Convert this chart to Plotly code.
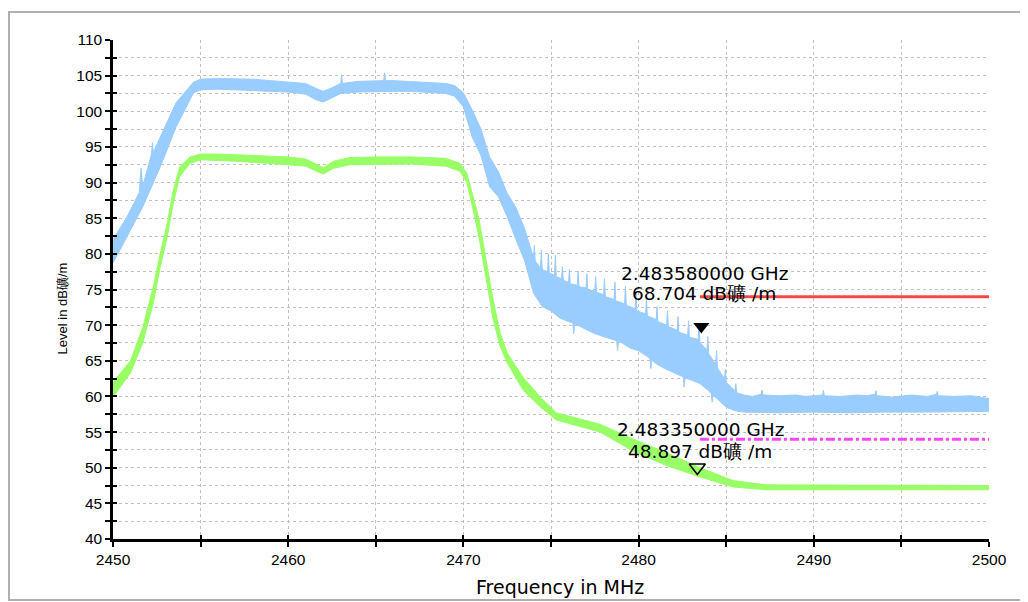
import plotly.graph_objects as go

# ---------------- data ----------------
# Peak trace (light blue): upper envelope (freq MHz, level dB礦/m)
peak_up_freq = [2450, 2450.8, 2451.5, 2451.6, 2451.7, 2452.2, 2452.25, 2452.3, 2452.7, 2453.6, 2454.6,
                2455, 2456, 2457, 2458, 2459, 2460, 2461, 2461.6, 2462, 2462.5, 2463, 2463.05, 2463.1,
                2464, 2465, 2465.45, 2465.5, 2465.55, 2466, 2467, 2468, 2469, 2469.5, 2470, 2470.5,
                2471, 2471.5, 2472, 2472.5, 2473, 2473.5, 2473.8,
                2474.0, 2474.05, 2474.1, 2474.4, 2474.45, 2474.5, 2474.8, 2474.85, 2474.9,
                2475.2, 2475.25, 2475.3, 2475.6, 2475.65, 2475.7, 2476.0, 2476.05, 2476.1,
                2476.5, 2476.55, 2476.6, 2477.0, 2477.05, 2477.1, 2477.5, 2477.55, 2477.6,
                2478.0, 2478.05, 2478.1, 2478.6, 2478.65, 2478.7, 2479.2, 2479.25, 2479.3,
                2479.8, 2479.85, 2479.9, 2480.4, 2480.45, 2480.5, 2481.0, 2481.05, 2481.1,
                2481.6, 2481.65, 2481.7, 2482.2, 2482.25, 2482.3, 2482.8, 2482.85, 2482.9,
                2483.4, 2483.45, 2483.5, 2483.9, 2483.95, 2484.0, 2484.4, 2484.45, 2484.5,
                2484.9, 2484.95, 2485.0, 2485.5, 2485.55, 2485.6, 2486.0,
                2486.5, 2487, 2487.05, 2487.1, 2488, 2489, 2489.5, 2490.5, 2490.55, 2490.6,
                2491.5, 2492.5, 2493, 2493.5, 2493.55, 2493.6, 2494.5, 2495.5, 2496.5, 2497,
                2497.05, 2497.1, 2498, 2499, 2500]
peak_up = [82.0, 85.2, 88.6, 92.0, 89.5, 94.0, 95.6, 94.2, 96.4, 101.2, 104.1,
           104.5, 104.6, 104.6, 104.5, 104.3, 104.1, 103.9, 103.2, 102.8, 103.3, 103.9, 105.1, 103.9,
           104.2, 104.3, 104.3, 105.4, 104.3, 104.3, 104.2, 104.1, 103.9, 103.6, 102.6, 100.2,
           97.5, 93.6, 91.5, 88.5, 86.5, 83.5, 81.0,
           79.5, 81.2, 79.0, 78.0, 80.5, 77.8, 77.5, 80.0, 77.3,
           77.0, 79.8, 76.8, 76.5, 78.2, 76.3, 76.0, 77.8, 75.8,
           75.6, 77.6, 75.4, 75.2, 77.2, 75.0, 74.8, 76.8, 74.6,
           74.3, 76.5, 74.0, 73.6, 76.0, 73.4, 73.0, 75.5, 72.8,
           72.3, 74.6, 72.0, 71.6, 73.6, 71.3, 70.8, 72.6, 70.5,
           70.0, 72.0, 69.8, 69.3, 71.2, 69.0, 68.6, 70.6, 68.3,
           68.0, 70.0, 67.6, 66.5, 68.4, 66.0, 64.5, 66.4, 64.0,
           62.5, 63.8, 62.0, 60.8, 61.8, 60.5, 60.2,
           60.0, 60.3, 60.9, 60.2, 60.1, 60.2, 60.0, 60.2, 60.9, 60.1,
           60.0, 60.2, 60.1, 60.3, 60.8, 60.1, 59.9, 60.2, 60.0, 60.3,
           60.7, 60.1, 60.0, 60.1, 59.7]

# Peak trace: lower envelope
peak_lo_freq = [2450, 2450.8, 2451.7, 2452.7, 2453.6, 2454.6, 2455, 2456, 2457, 2458, 2459, 2460,
                2461, 2461.6, 2462, 2462.5, 2463, 2464, 2465, 2466, 2467, 2468, 2469, 2469.5, 2470,
                2470.5, 2471, 2471.5, 2472, 2472.5, 2473, 2473.5, 2474, 2474.5, 2475, 2475.5, 2476,
                2476.25, 2476.3, 2476.35, 2476.5, 2477, 2477.5, 2478, 2478.5, 2478.75, 2478.8,
                2478.85, 2479, 2479.5, 2480, 2480.5, 2480.65, 2480.7, 2480.75, 2481, 2481.5, 2482,
                2482.5, 2482.55, 2482.6, 2482.65, 2483, 2483.5, 2484, 2484.15, 2484.2, 2484.25,
                2484.5, 2485, 2485.5, 2486, 2488, 2490, 2492, 2494, 2496, 2498, 2500]
peak_lo = [78.7, 82.4, 86.6, 92.2, 97.8, 102.6, 103.0, 103.1, 103.0, 102.9, 102.8, 102.7,
           102.4, 101.6, 101.3, 101.9, 102.5, 102.7, 102.8, 102.8, 102.8, 102.7, 102.5, 102.1, 100.6,
           96.4, 93.8, 89.4, 88.0, 85.2, 82.0, 79.0, 74.5, 72.6, 72.0, 71.0, 70.5,
           70.3, 68.8, 70.2, 70.0, 69.4, 68.8, 68.4, 68.0, 67.8, 66.4,
           67.7, 67.6, 66.8, 66.4, 65.6, 65.3, 63.9, 65.1, 64.6, 63.9, 63.3,
           62.8, 62.7, 61.3, 62.6, 62.3, 61.8, 60.8, 60.4, 59.2, 60.2,
           59.6, 58.5, 58.0, 57.8, 57.7, 57.8, 57.7, 57.8, 57.8, 57.8, 57.9]

# Average trace (light green) envelope
avg_freq = [2450, 2451, 2451.7, 2452.3, 2452.7, 2453.1, 2453.4, 2453.8, 2454.4, 2455, 2456, 2457,
            2458, 2459, 2460, 2461, 2461.6, 2462, 2462.6, 2463.5, 2465, 2467, 2469, 2469.8, 2470.2,
            2470.5, 2470.9, 2471.3, 2471.7, 2472.1, 2472.5, 2473.4, 2474.4, 2475.3, 2476.5, 2477.8,
            2479.7, 2481.6, 2483.5, 2485.4, 2487.3, 2490, 2495, 2500]
avg_upper = [62.0, 65.0, 69.7, 75.4, 80.1, 84.3, 88.5, 92.2, 93.6, 94.0, 94.0, 93.9,
             93.8, 93.7, 93.6, 93.3, 92.6, 92.1, 93.0, 93.5, 93.6, 93.6, 93.4, 92.7, 91.3,
             88.5, 84.8, 79.1, 73.5, 68.9, 66.1, 62.7, 59.9, 57.7, 56.9, 56.1,
             54.0, 52.1, 50.0, 48.2, 47.6, 47.6, 47.6, 47.5]
avg_lower = [59.9, 63.3, 67.5, 73.1, 78.2, 82.4, 86.6, 90.8, 92.7, 93.2, 93.1, 93.0,
             92.9, 92.7, 92.5, 92.3, 91.6, 91.2, 92.0, 92.5, 92.6, 92.6, 92.3, 91.6, 90.0,
             86.8, 82.2, 76.5, 70.8, 67.0, 64.7, 60.9, 58.5, 56.7, 55.9, 55.0,
             52.3, 50.3, 48.7, 47.3, 46.9, 46.9, 46.9, 46.9]

# Limit lines
limit_freq = [2483.5, 2500]
limit_peak = [74, 74]
limit_avg = [54, 54]

# Markers
marker_freq = [2483.58, 2483.35]
marker_level = [68.704, 48.897]

x_ticks = [2450, 2460, 2470, 2480, 2490, 2500]

# ---------------- figure ----------------
BLUE = "#99ccff"
GREEN = "#99ff66"

fig = go.Figure()

fig.add_trace(go.Scatter(
    x=peak_up_freq + peak_lo_freq[::-1], y=peak_up + peak_lo[::-1],
    fill="toself", fillcolor=BLUE, mode="lines",
    line=dict(color=BLUE, width=1), hoverinfo="skip", showlegend=False))

fig.add_trace(go.Scatter(
    x=avg_freq + avg_freq[::-1], y=avg_upper + avg_lower[::-1],
    fill="toself", fillcolor=GREEN, mode="lines",
    line=dict(color=GREEN, width=1), hoverinfo="skip", showlegend=False))

fig.add_trace(go.Scatter(x=limit_freq, y=limit_peak, mode="lines",
                         line=dict(color="#f44848", width=3), showlegend=False))
fig.add_trace(go.Scatter(x=limit_freq, y=limit_avg, mode="lines",
                         line=dict(color="#ff44ff", width=3, dash="dashdot"), showlegend=False))

# marker triangles drawn a little above the marked level
PX_PER_DB = 499 / 70.0
tri_off = 8 / PX_PER_DB
fig.add_trace(go.Scatter(x=[marker_freq[0]], y=[marker_level[0] + tri_off], mode="markers",
                         marker=dict(symbol="triangle-down", size=14, color="black"),
                         showlegend=False))
fig.add_trace(go.Scatter(x=[marker_freq[1]], y=[marker_level[1] + tri_off], mode="markers",
                         marker=dict(symbol="triangle-down-open", size=14, color="black",
                                     line=dict(width=1.5)),
                         showlegend=False))

# invisible trace for overlay axes (inside ticks)
fig.add_trace(go.Scatter(x=[2450], y=[40], xaxis="x2", yaxis="y2", mode="markers",
                         marker=dict(opacity=0), showlegend=False, hoverinfo="skip"))

ann_font = dict(family="DejaVu Sans", size=18.5, color="black")
shifts = [(61, 41), (46, 24)]
for f, lv, (s1, s2) in zip(marker_freq, marker_level, shifts):
    fig.add_annotation(x=f, y=lv, xref="x", yref="y", text=f"{f / 1000:.9f} GHz",
                       showarrow=False, xshift=3, yshift=s1, font=ann_font)
    fig.add_annotation(x=f, y=lv, xref="x", yref="y", text=f"{lv:.3f} dB礦 /m",
                       showarrow=False, xshift=3, yshift=s2, font=ann_font)

fig.add_annotation(x=-0.0674, y=0.463, xref="paper", yref="paper", text="Level in dB礦/m",
                   textangle=-90, showarrow=False,
                   font=dict(family="Liberation Sans", size=13, color="black"))
fig.add_annotation(x=0.51, y=-0.096, xref="paper", yref="paper", text="Frequency in MHz",
                   showarrow=False, yanchor="middle",
                   font=dict(family="DejaVu Sans", size=19, color="black"))

# outer frame
fig.add_shape(type="rect", xref="paper", yref="paper",
              x0=(9 - 113) / 876, x1=(1040 - 113) / 876,
              y0=(539 - 600) / 499, y1=(539 - 12) / 499,
              line=dict(color="#b0b0b0", width=2), layer="below")

grid = dict(gridcolor="#c0c0c0", griddash="dot", gridwidth=1.2)
tickfont = dict(family="Liberation Sans", size=15.5, color="black")

# the page body has an 8px margin, so the figure is sized/offset to place the
# plot area at the reference's pixel positions in the 1028x602 window
fig.update_layout(
    width=1020, height=594,
    margin=dict(l=105, r=39, t=32, b=63),
    paper_bgcolor="white", plot_bgcolor="white",
    xaxis=dict(range=[2450, 2500], tickvals=x_ticks, ticks="outside", ticklen=5, tickwidth=2,
               tickcolor="black", showline=True, linecolor="black", linewidth=2.5,
               showgrid=True, zeroline=False, tickfont=tickfont, **grid,
               minor=dict(dtick=5, tick0=2450, ticks="outside", ticklen=5, tickwidth=2,
                          tickcolor="black", showgrid=True, **grid)),
    yaxis=dict(range=[40, 110], dtick=5, tick0=40, ticks="outside", ticklen=5, tickwidth=2,
               tickcolor="black", showline=True, linecolor="black", linewidth=2.5,
               showgrid=True, zeroline=False, tickfont=tickfont, **grid,
               minor=dict(dtick=2.5, tick0=40, ticks="outside", ticklen=5, tickwidth=2,
                          tickcolor="black", showgrid=True, **grid)),
    xaxis2=dict(range=[2450, 2500], overlaying="x", anchor="y2", dtick=5, tick0=2450,
                ticks="inside", ticklen=4, tickwidth=2, tickcolor="black",
                showticklabels=False, showgrid=False, zeroline=False, showline=False),
    yaxis2=dict(range=[40, 110], overlaying="y", anchor="x2", dtick=2.5, tick0=40,
                ticks="inside", ticklen=4, tickwidth=2, tickcolor="black",
                showticklabels=False, showgrid=False, zeroline=False, showline=False),
)

fig.write_html("out.html")
